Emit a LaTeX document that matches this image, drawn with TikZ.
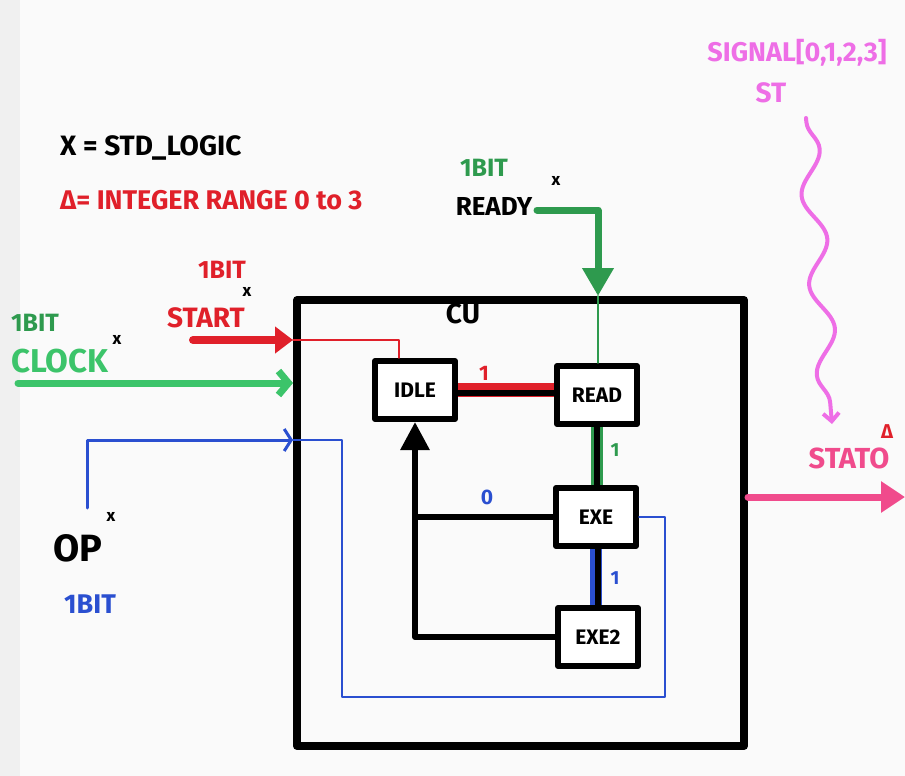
\documentclass[tikz,border=0pt]{standalone}
\usepackage{fontspec}
\setmainfont{Fira Sans}
\usetikzlibrary{arrows.meta,decorations.pathmorphing}
\definecolor{penred}{HTML}{E0202A}
\definecolor{clockgreen}{HTML}{3CC46A}
\definecolor{bitgreen}{HTML}{2E9A4E}
\definecolor{penblue}{HTML}{2A4FD0}
\definecolor{statopink}{HTML}{F04B8C}
\definecolor{sigpink}{HTML}{EE6EE6}
\newcommand\penfont[1]{\fontsize{#1}{#1}\selectfont\bfseries}
\begin{document}
\begin{tikzpicture}[x=1pt,y=-1pt,line cap=round,line join=round,
  statebox/.style={draw,line width=6pt,fill=white,minimum width=80pt,minimum height=58pt,inner sep=0pt,font=\penfont{21}},
  pen/.style={inner sep=0pt,font=\penfont{#1}},
  pen/.default=20,
  tick/.style={inner sep=0pt,font=\penfont{17}}]
  \useasboundingbox (0,0) rectangle (905,776);
  \fill[black!2] (0,0) rectangle (905,776);
  \fill[black!6] (0,0) rectangle (20,776);

  \node[draw,line width=8pt,minimum width=447pt,minimum height=446pt,inner sep=0pt] (cu) at (520.5,523) {};
  \node[pen=28] (culabel) at (463,314) {CU};

  \node[statebox] (idle) at (415,390) {IDLE};
  \node[statebox] (read) at (597,395) {READ};
  \node[statebox] (exe) at (596,517) {EXE};
  \node[statebox] (exetwo) at (598,637) {EXE2};

  \coordinate (startin) at (193,340);
  \coordinate (startbend) at (399,340);
  \coordinate (clockin) at (18,383);
  \coordinate (opin) at (87,508);
  \coordinate (opup) at (87,440);
  \coordinate (opa) at (342,440);
  \coordinate (opb) at (342,697);
  \coordinate (opc) at (665,697);
  \coordinate (opd) at (665,517);
  \coordinate (readyin) at (537,210);
  \coordinate (readybend) at (598,210);
  \coordinate (readyend) at (598,296);
  \coordinate (stato) at (905,497);
  \coordinate (sigtop) at (806,118);
  \coordinate (sigend) at (832,424);

  \draw[penred,line width=14pt,line cap=butt] (idle.east) -- (idle.east -| read.west);
  \draw[line width=6pt,line cap=butt] ([yshift=-3pt]idle.east) -- ([yshift=-3pt]idle.east -| read.west);
  \draw[bitgreen,line width=12pt,line cap=butt] (read.south) -- (read.south |- exe.north);
  \draw[line width=6pt,line cap=butt] (read.south) -- (read.south |- exe.north);
  \draw[penblue,line width=12pt,line cap=butt] (exe.south) -- (exe.south |- exetwo.north);
  \draw[line width=6pt,line cap=butt] ([xshift=2pt]exe.south) -- ([xshift=2pt]exe.south |- exetwo.north);

  \draw[line width=6pt,-{Triangle[length=28pt,width=28pt]}] (exetwo.west) -| (idle.south);
  \draw[line width=6pt] (exe.west) -- (exe.west -| idle.south);

  \draw[penred,line width=8pt,-{Triangle[length=18pt,width=26pt]}] (startin) -- (startin -| cu.west);
  \draw[penred,line width=1.5pt] (startin -| cu.west) -- (startbend) -- (startbend |- idle.north);
  \draw[clockgreen,line width=7pt,-{Straight Barb[length=10pt,width=24pt]}] (clockin) -- (clockin -| cu.west);
  \draw[penblue,line width=3pt,-{Straight Barb[length=7pt,width=22pt]}] (opin) -- (opup) -- (opup -| cu.west);
  \draw[penblue,line width=1.5pt] (opup -| cu.west) -- (opa) -- (opb) -- (opc) -- (opd) -- (exe.east);
  \draw[bitgreen,line width=7pt,-{Triangle[length=28pt,width=30pt]}] (readyin) -- (readybend) -- (readyend);
  \draw[bitgreen,line width=1.5pt] (readyend) -- (readyend |- read.north);
  \draw[statopink,line width=7pt,-{Triangle[length=24pt,width=30pt]}] (stato -| cu.east) -- (stato);
  \draw[sigpink,line width=4pt,-{Straight Barb[length=8pt,width=16pt]},
    decorate,decoration={snake,amplitude=11pt,segment length=90pt,pre length=4pt,post length=12pt}] (sigtop) -- (sigend);

  \node[pen=28,anchor=west] (stdlogic) at (60,148) {X = STD\_LOGIC};
  \node[pen=27,anchor=west,penred] (intrange) at (60,200) {Δ= INTEGER RANGE 0 to 3};

  \node[pen=25,bitgreen] (readybit) at (484,168) {1BIT};
  \node[pen=26] (ready) at (494,206) {READY};
  \node[tick] (readyx) at (556,181) {x};
  \node[pen=25,penred] (startbit) at (222,270) {1BIT};
  \node[pen=28,penred] (start) at (206,318) {START};
  \node[tick] (startx) at (247,292) {x};
  \node[pen=25,bitgreen] (clockbit) at (35,323) {1BIT};
  \node[pen=33,clockgreen] (clock) at (60,361) {CLOCK};
  \node[tick] (clockx) at (117,340) {x};
  \node[pen=38] (op) at (78,548) {OP};
  \node[tick] (opx) at (111,517) {x};
  \node[pen=27,penblue] (opbit) at (90,604) {1BIT};
  \node[pen=27,sigpink] (signal) at (797,53) {SIGNAL[0,1,2,3]};
  \node[pen=28,sigpink] (st) at (771,93) {ST};
  \node[pen=29,statopink] (statolabel) at (849,458) {STATO};
  \node[pen=20,penred] (statotype) at (887,432) {Δ};

  \node[pen=21,penred] (idleread) at (484,373) {1};
  \node[pen=19,bitgreen] (readexe) at (615,450) {1};
  \node[pen=19,penblue] (exeexetwo) at (615,578) {1};
  \node[pen=21,penblue] (exeidle) at (487,497) {0};
\end{tikzpicture}
\end{document}
